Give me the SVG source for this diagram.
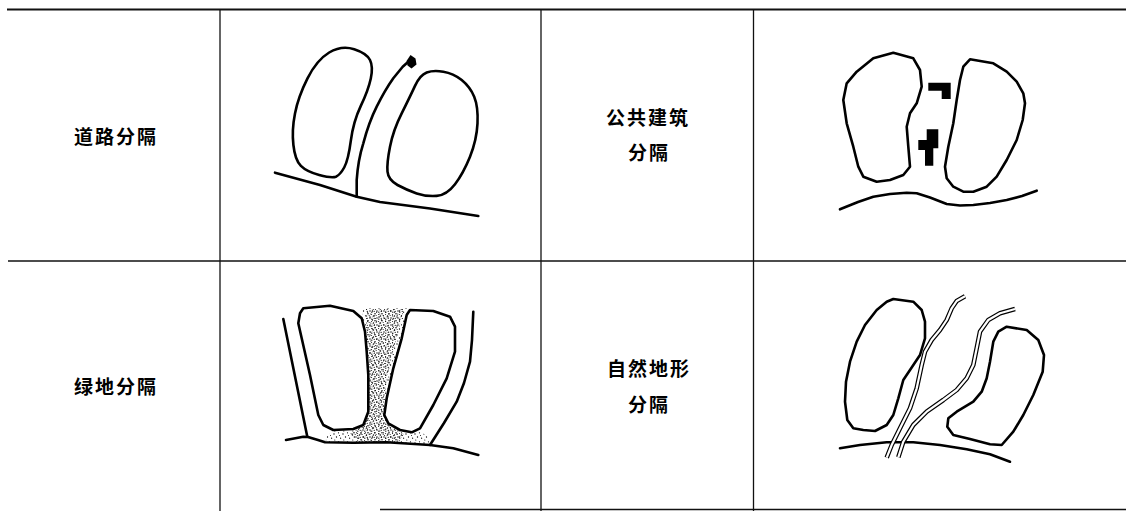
<svg xmlns="http://www.w3.org/2000/svg" width="1126" height="511" viewBox="0 0 1126 511">
  <style>
    .grid { stroke: #111; fill: none; }
    .ink { stroke: #000; stroke-width: 2.6; fill: none; stroke-linejoin: round; stroke-linecap: round; }
    .blob { stroke: #000; stroke-width: 2.6; fill: #fff; stroke-linejoin: round; }
    .solid { fill: #000; stroke: none; }
    .label { font-family: "Noto Sans CJK SC", "Noto Sans", sans-serif; font-size: 19px; font-weight: bold; letter-spacing: 2px; fill: #000; text-anchor: middle; }
    .river-out { stroke: #000; stroke-width: 4.6; fill: none; stroke-linejoin: round; }
    .river-in { stroke: #fff; stroke-width: 2.2; fill: none; stroke-linejoin: round; }
  </style>
  <defs>
    <pattern id="dotsLight" patternUnits="userSpaceOnUse" width="9" height="9">
      <circle cx="1" cy="2" r="0.65" fill="#000"/>
      <circle cx="5.5" cy="0.8" r="0.6" fill="#000"/>
      <circle cx="3.5" cy="5" r="0.65" fill="#000"/>
      <circle cx="7.6" cy="6.2" r="0.6" fill="#000"/>
      <circle cx="1.8" cy="8" r="0.55" fill="#000"/>
      <circle cx="6.5" cy="3.4" r="0.5" fill="#000"/>
    </pattern>
    <pattern id="dotsDense" patternUnits="userSpaceOnUse" width="7" height="7">
      <circle cx="2.5" cy="1" r="0.7" fill="#000"/>
      <circle cx="6" cy="3" r="0.7" fill="#000"/>
      <circle cx="0.8" cy="4.2" r="0.65" fill="#000"/>
      <circle cx="4" cy="5.8" r="0.75" fill="#000"/>
      <circle cx="5.2" cy="0.3" r="0.55" fill="#000"/>
      <circle cx="3.2" cy="3.3" r="0.6" fill="#000"/>
      <circle cx="0.6" cy="6.6" r="0.5" fill="#000"/>
      <circle cx="1.2" cy="1.9" r="0.45" fill="#000"/>
    </pattern>
    <path id="river1" d="M886.7,457.7 L891.7,445 L900,428.3 L910,408.3 L916.7,388.3 L921.7,365 L925,351.7 L931.7,340 L940,330 L946.7,320 L951.7,308.3 L956.7,301 L965,296.3"/>
    <path id="river2" d="M898.3,457.3 L903.3,441.7 L913.3,425 L926.7,411.7 L943.3,400 L956.7,390 L966.7,378.3 L973.3,365 L976.7,348.3 L980,331.7 L988.3,320 L1000,313.3 L1015,309"/>
  </defs>

  <!-- table rules -->
  <g id="table" class="grid">
    <line x1="7" y1="9.5" x2="1126" y2="9.5" stroke-width="2"/>
    <line x1="8" y1="261" x2="1126" y2="261" stroke-width="1.3"/>
    <line x1="380" y1="509.5" x2="1126" y2="509.5" stroke-width="1.5"/>
    <line x1="220" y1="9" x2="220" y2="511" stroke-width="1.3"/>
    <line x1="541" y1="9" x2="541" y2="511" stroke-width="1.3"/>
    <line x1="753.5" y1="9" x2="753.5" y2="511" stroke-width="1.3"/>
  </g>

  <!-- labels -->
  <g id="label-road"><text class="label" x="116" y="144">道路分隔</text></g>
  <g id="label-building"><text class="label" x="648" y="125">公共建筑</text><text class="label" x="649" y="160">分隔</text></g>
  <g id="label-green"><text class="label" x="116" y="393.5">绿地分隔</text></g>
  <g id="label-terrain"><text class="label" x="649" y="376">自然地形</text><text class="label" x="649" y="411.5">分隔</text></g>

  <!-- road separation -->
  <g id="road-separation">
    <path class="blob" d="M329.2,52.5 Q341.7,45 354.2,49.2 Q366.7,53.3 370,60 Q373.3,66.7 370.8,78.4 Q368.3,90 360.8,105.9 Q353.3,121.7 350.8,140.9 Q348.3,160 344.2,167.5 Q340,175 335.9,176.7 Q331.7,178.3 319.2,175 Q306.7,171.7 300.9,165.9 Q295,160 293.4,145 Q291.7,130 295,113.4 Q298.3,96.7 307.5,78.4 Q316.7,60 329.2,52.5Z"/>
    <path class="blob" d="M426.7,72.5 Q433.3,70 443.3,71.7 Q453.3,73.3 461.7,80 Q470,86.7 474.2,96.7 Q478.3,106.7 477.5,123.4 Q476.7,140 470,156.7 Q463.3,173.3 455,184.2 Q446.7,195 436.7,195.9 Q426.7,196.7 416.7,193.4 Q406.7,190 397.5,185 Q388.3,180 387.5,171.7 Q386.7,163.3 390,146.7 Q393.3,130 401.7,113.4 Q410,96.7 415,85.9 Q420,75 426.7,72.5Z"/>
    <path class="ink" d="M356.7,196.7 L356.7,180 Q358,160 363.3,143.3 Q369,122 376.7,106.7 Q385,90 393.3,78.3 L402.7,66.7 L408,62"/>
    <path class="solid" d="M406.5,61 L410.5,55 L415.5,58.5 L416.5,64.5 L411.5,68.5 L407.5,65.5Z"/>
    <polyline class="ink" points="275,172.7 320,185 356.7,196.7 380,202 430,208.5 478.3,216"/>
  </g>

  <!-- public building separation -->
  <g id="building-separation">
    <polygon class="blob" points="893.3,52.7 913.3,58.3 920,70 921.7,86.7 916.7,103.3 910,113.3 906.7,126.7 908.3,146.7 910,166.7 903.3,175 890,180 876.7,181.7 863.3,176.7 858.3,166.7 853.3,146.7 846.7,123.3 843.3,100 846.7,83.3 856.7,71.7 873.3,58.3"/>
    <polygon class="blob" points="970,59.3 993.3,63.3 1006.7,71.7 1016.7,81.7 1023.3,93.3 1025,103.3 1022.7,120 1016.7,140 1006.7,160 996.7,176.7 986.7,186.7 973.3,191.7 963.3,191.7 953.3,186.7 946.7,178.3 945,166.7 948.3,146.7 953.3,123.3 956.7,100 960,80 963.3,66.7"/>
    <polygon class="solid" points="928.3,82.7 950.7,82.7 950.7,99 941.7,99 941.7,90.7 928.3,90.7"/>
    <polygon class="solid" points="926.7,129.3 938.3,129.3 938.3,148.3 933.3,148.3 933.3,165.7 925,165.7 925,150 918.3,150 918.3,140 926.7,140"/>
    <polyline class="ink" points="840,209.3 858,202 873.3,196.7 890,194 906.7,192.7 916.7,193.3 930,197.5 946.7,204 960,205.5 973.3,205 990,203 1006.7,200 1022,196 1036.7,190.7"/>
  </g>

  <!-- green space separation -->
  <g id="green-separation">
    <polygon fill="url(#dotsLight)" points="363,308 408.5,308 401.7,338.3 393.3,368.3 386.7,398.3 384.3,415 388.3,423.3 400,430 411.7,432.3 420,431 428,437 430,445 386.7,442.3 353.3,442.7 325,442.3 327,436 333.3,431 353.3,429 363.3,425 368.3,411.7 368.3,375 366.7,351.7 365,331.7 361.7,318.3"/>
    <polygon fill="url(#dotsDense)" points="366,309 404,309 396,340 388,372 384,400 384,418 392,428 404,434 398,443 360,443 350,434 362,426 368,410 369,370 367,340"/>
    <polygon class="blob" points="303.3,308.3 330,305.7 353.3,311 361.7,318.3 365,331.7 366.7,351.7 368.3,375 368.3,411.7 363.3,425 353.3,429 333.3,430 323.3,425 318.3,415 310,375 301.7,338.3 298.3,323.3 300,313.3"/>
    <polygon class="blob" points="410,310 433.3,311 450,316.7 455,326.7 455,351.7 446.7,378.3 433.3,405 420,428.3 411.7,432.3 400,430 388.3,423.3 384.3,415 386.7,398.3 393.3,368.3 401.7,338.3 406.7,315"/>
    <polyline class="ink" points="283.3,319 307.3,436.7"/>
    <polyline class="ink" points="473.3,311.7 472,340 470,361.7 464,383 456.7,401.7 444,423 430,445"/>
    <polyline class="ink" points="286,440 303.3,436.7 308,437 318,440 325,442.3 353.3,442.7 386.7,442.3 430,445 453.3,448.3 478.3,455"/>
  </g>

  <!-- natural terrain separation -->
  <g id="terrain-separation">
    <polygon class="blob" points="893.3,299 913.3,301.7 921.7,310 925,321.7 925,338.3 920,355 910,370 903.3,380 898.3,398.3 893.3,415 886.7,425 875,431 863.3,430 853.3,428.3 847.3,420 845,401.7 846,381.7 850,361.7 856.7,341.7 865,325 876.7,310 886.7,301.7"/>
    <polygon class="blob" points="1006.7,326.7 1026.7,330 1038.3,340 1044,355 1042.7,371.7 1033.3,395 1023.3,415 1013.3,431.7 1001.7,445 990,444.3 970,439 953.3,435 947.3,426.7 948.3,418.3 956.7,411.7 973.3,401.7 981.7,391.7 986.7,378.3 990,361.7 993.3,341.7 998.3,331.7"/>
    <polyline class="ink" points="840,448.3 860,445 886.7,442.3 913.3,442.3 940,445 966.7,449.3 990,454.3 1010,461.7"/>
    <use href="#river1" class="river-out"/>
    <use href="#river1" class="river-in"/>
    <use href="#river2" class="river-out"/>
    <use href="#river2" class="river-in"/>
  </g>
</svg>
